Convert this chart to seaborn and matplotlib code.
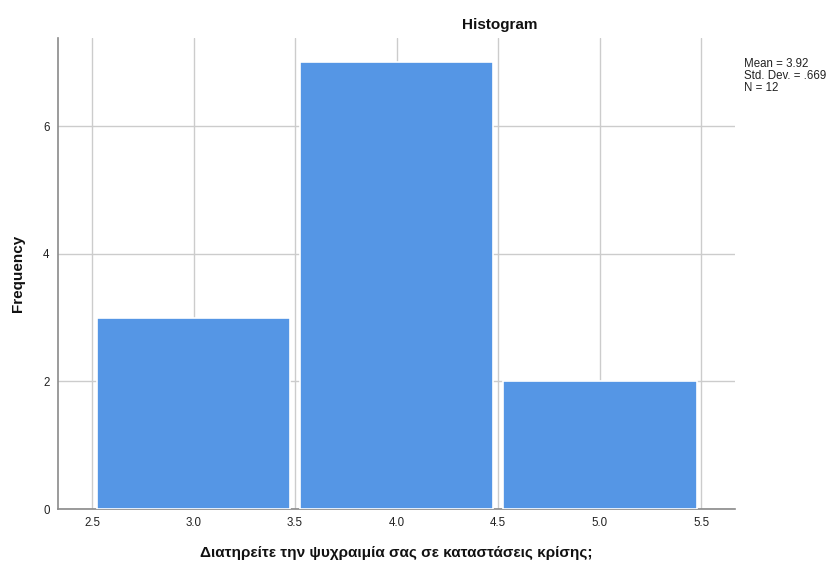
import matplotlib
matplotlib.use("Agg")
import matplotlib.pyplot as plt
import seaborn as sns
import numpy as np
import pandas as pd

# Response scores and how many respondents gave each
scores = [3, 4, 5]
counts = [3, 7, 2]
bin_edges = [2.5, 3.5, 4.5, 5.5]
x_ticks = [2.5, 3.0, 3.5, 4.0, 4.5, 5.0, 5.5]
y_ticks = [0, 2, 4, 6]
title = "Histogram"
x_label = "Διατηρείτε την ψυχραιμία σας σε καταστάσεις κρίσης;"
y_label = "Frequency"

values = np.repeat(scores, counts)
df = pd.DataFrame({"score": values})
mean = values.mean()
sd = values.std(ddof=1)
n = len(values)

sns.set_theme(style="white")
plt.rcParams["font.family"] = ["Liberation Sans", "DejaVu Sans"]

fig = plt.figure(figsize=(8.33, 5.67), dpi=100)
ax = fig.add_axes([58 / 833, 1 - 509 / 567, (735 - 58) / 833, (509 - 38) / 567])

sns.histplot(data=df, x="score", bins=bin_edges, shrink=0.955, ax=ax,
             color="#5596e5", alpha=1, edgecolor="white", linewidth=1.2, zorder=3)

ax.set_xlim(2.3325, 5.667)
ax.set_ylim(0, 7.38)
ax.set_xticks(x_ticks)
ax.set_xticklabels([f"{t:.1f}" for t in x_ticks])
ax.set_yticks(y_ticks)
ax.grid(True, color="#cccccc", linewidth=1.0, zorder=0)
ax.set_axisbelow(True)
for s in ["top", "right"]:
    ax.spines[s].set_visible(False)
for s in ["left", "bottom"]:
    ax.spines[s].set_color("#8a8a8a")
    ax.spines[s].set_linewidth(1.2)
ax.tick_params(axis="both", length=0, labelsize=8.3, colors="#222222")
ax.tick_params(axis="x", pad=6)
ax.tick_params(axis="y", pad=6)
ax.set_xlabel("")
ax.set_ylabel("")

fig.text(396 / 833, 1 - 553 / 567, x_label, ha="center", va="center",
         fontsize=11, fontweight="bold", color="#111111")
fig.text(18 / 833, 1 - 273 / 567, y_label, ha="center", va="center",
         rotation=90, fontsize=11, fontweight="bold", color="#111111")
fig.text(500 / 833, 1 - 25 / 567, title, ha="center", va="center",
         fontsize=11, fontweight="bold", color="#111111")
fig.text(744 / 833, 1 - 58 / 567,
         f"Mean = {mean:.2f}\nStd. Dev. = {sd:.3f}".replace("0.", ".") + f"\nN = {n}",
         ha="left", va="top", fontsize=8.3, color="#222222", linespacing=0.98)

fig.savefig("out.png", dpi=100)
